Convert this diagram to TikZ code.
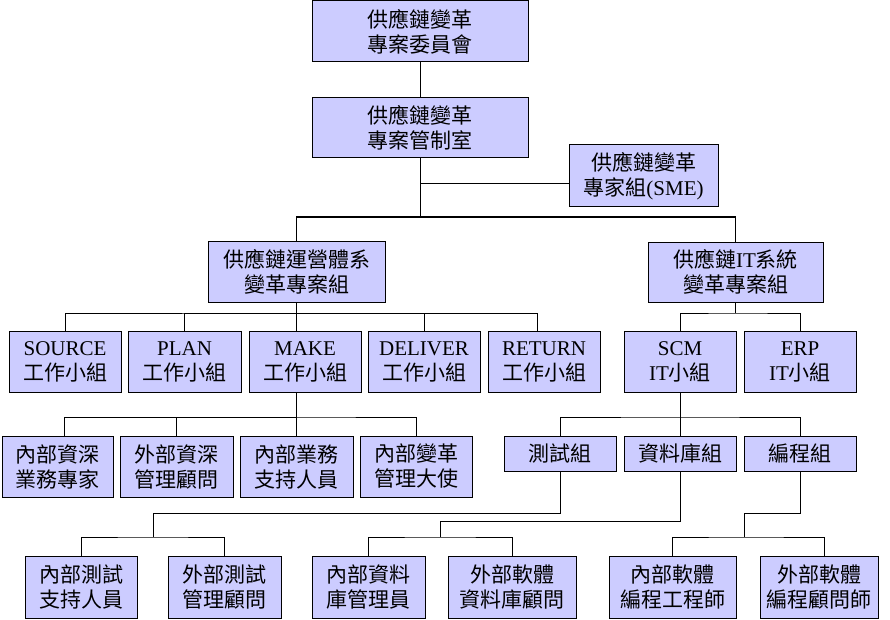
\documentclass[tikz,border=0pt]{standalone}
\usepackage{fontspec}
\setmainfont{Liberation Serif}
\newfontfamily\cjk{Noto Sans CJK TC}
\newcommand\zh[1]{{\cjk #1}}
\usetikzlibrary{calc}
\definecolor{boxfill}{HTML}{CCCCFF}
\tikzset{
  box/.style={draw=black, fill=boxfill, line width=1pt, align=center, inner sep=0pt,
    font=\fontsize{21}{25}\selectfont},
  conn/.style={draw=black, line width=1pt},
}
\begin{document}
\begin{tikzpicture}[x=1pt,y=-1pt]
\useasboundingbox (0,0) rectangle (890,620);
% level 1-2
\node[box, minimum width=216, minimum height=61] (com) at (420,31.5) {\zh{供應鏈變革}\\\zh{專案委員會}};
\node[box, minimum width=216, minimum height=60] (ctrl) at (420,128) {\zh{供應鏈變革}\\\zh{專案管制室}};
\node[box, minimum width=149, minimum height=62] (sme) at (643.5,176) {\zh{供應鏈變革}\\\zh{專家組}(SME)};
% level 2b
\node[box, minimum width=177, minimum height=61] (ops) at (296.5,271.5) {\zh{供應鏈運營體系}\\\zh{變革專案組}};
\node[box, minimum width=175, minimum height=60] (it) at (735.5,272) {\zh{供應鏈}IT\zh{系統}\\\zh{變革專案組}};
% level 3
\node[box, minimum width=112, minimum height=61] (source) at (65,361.5) {SOURCE\\\zh{工作小組}};
\node[box, minimum width=113, minimum height=61] (plan) at (184.5,361.5) {PLAN\\\zh{工作小組}};
\node[box, minimum width=112, minimum height=61] (make) at (305,361.5) {MAKE\\\zh{工作小組}};
\node[box, minimum width=112, minimum height=61] (deliver) at (424,361.5) {DELIVER\\\zh{工作小組}};
\node[box, minimum width=112, minimum height=61] (return) at (544,361.5) {RETURN\\\zh{工作小組}};
\node[box, minimum width=112, minimum height=61] (scm) at (680,361.5) {SCM\\IT\zh{小組}};
\node[box, minimum width=112, minimum height=61] (erp) at (800,361.5) {ERP\\IT\zh{小組}};
% level 4
\node[box, minimum width=111, minimum height=61] (a1) at (57.5,466.5) {\zh{內部資深}\\\zh{業務專家}};
\node[box, minimum width=113, minimum height=61] (a2) at (176.5,466.5) {\zh{外部資深}\\\zh{管理顧問}};
\node[box, minimum width=113, minimum height=61] (a3) at (296.5,466.5) {\zh{內部業務}\\\zh{支持人員}};
\node[box, minimum width=112, minimum height=61] (a4) at (416,466.5) {\zh{內部變革}\\\zh{管理大使}};
\node[box, minimum width=112, minimum height=35] (test) at (560,453.5) {\zh{測試組}};
\node[box, minimum width=112, minimum height=35] (db) at (680,453.5) {\zh{資料庫組}};
\node[box, minimum width=112, minimum height=35] (prog) at (800,453.5) {\zh{編程組}};
% level 5
\node[box, minimum width=112, minimum height=62] (b1) at (81,587) {\zh{內部測試}\\\zh{支持人員}};
\node[box, minimum width=113, minimum height=62] (b2) at (224.5,587) {\zh{外部測試}\\\zh{管理顧問}};
\node[box, minimum width=113, minimum height=62] (b3) at (368.5,587) {\zh{內部資料}\\\zh{庫管理員}};
\node[box, minimum width=128, minimum height=62] (b4) at (512,587) {\zh{外部軟體}\\\zh{資料庫顧問}};
\node[box, minimum width=127, minimum height=62] (b5) at (672.5,587) {\zh{內部軟體}\\\zh{編程工程師}};
\node[box, minimum width=118, minimum height=62] (b6) at (819,587) {\zh{外部軟體}\\\zh{編程顧問師}};
% junction coordinates
\coordinate (topbus) at (420,217);
\coordinate (smej) at (420,184);
\coordinate (ob) at (296.5,313);
\coordinate (ib) at (735.5,313);
\coordinate (mb) at (296.5,417);
\coordinate (sb) at (680,417);
\coordinate (tj) at (560,513);
\coordinate (tb) at (153,537);
\coordinate (dj) at (680,521);
\coordinate (db2) at (440,537);
\coordinate (pj) at (800,513);
\coordinate (pb) at (744,537);
% connectors
\draw[conn] (com) -- (ctrl);
\draw[conn] (ctrl) -- (topbus);
\draw[conn] (smej) -- (smej -| sme.west);
\draw[conn] (ops.north) |- (topbus) -| (it.north);
\draw[conn] (ops.south) -- (ob);
\draw[conn] (source.north) |- (ob) -| ($(return.north)+(-7,0)$);
\draw[conn] (plan.north) |- (ob);
\draw[conn] (ob) -- (ob |- make.north);
\draw[conn] (deliver.north) |- (ob);
\draw[conn] (it.south) -- (ib);
\draw[conn] (scm.north) |- (ib) -| (erp.north);
\draw[conn] (mb |- make.south) -- (mb);
\draw[conn] ($(a1.north)+(6.5,0)$) |- (mb) -| (a4.north);
\draw[conn] (a2.north) |- (mb);
\draw[conn] (mb) -- (mb |- a3.north);
\draw[conn] (scm.south) -- (sb);
\draw[conn] (test.north) |- (sb) -| (prog.north);
\draw[conn] (sb) -- (db.north);
\draw[conn] (test.south) -- (tj) -| (tb);
\draw[conn] (b1.north) |- (tb) -| (b2.north);
\draw[conn] (db.south) -- (dj) -| (db2);
\draw[conn] (b3.north) |- (db2) -| (b4.north);
\draw[conn] (prog.south) -- (pj) -| (pb);
\draw[conn] ($(b5.north)+(-0.5,0)$) |- (pb) -| ($(b6.north)+(5,0)$);
\end{tikzpicture}
\end{document}
